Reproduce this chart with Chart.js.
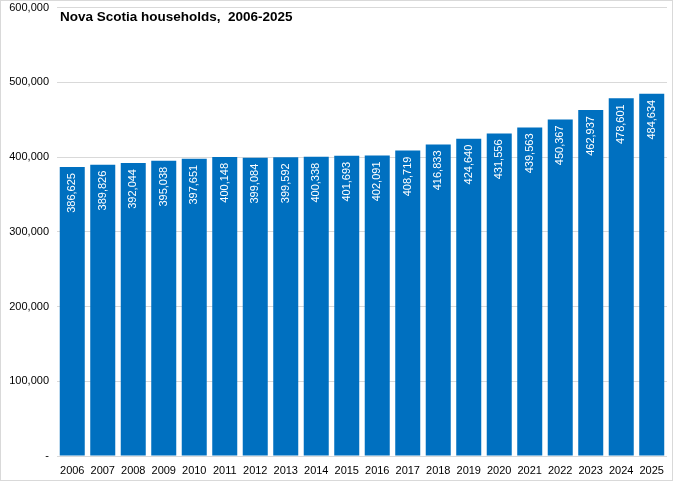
<!DOCTYPE html>
<html>
<head>
<meta charset="utf-8">
<script src="https://cdn.jsdelivr.net/npm/chart.js@4"></script>
<style>
  body { margin: 0; background: #fff; }
  #wrap { width: 671px; height: 479px; border: 1px solid #d9d9d9; overflow: hidden; }
  #chart { display: block; margin-top: -8px; }
</style>
</head>
<body>
<div id="wrap"><canvas id="chart" width="671" height="487"></canvas></div>
<script>
const years = ['2006', '2007', '2008', '2009', '2010', '2011', '2012', '2013', '2014', '2015',
  '2016', '2017', '2018', '2019', '2020', '2021', '2022', '2023', '2024', '2025'];
const households = [386625, 389826, 392044, 395038, 397651, 400148, 399084, 399592, 400338, 401693,
  402091, 408719, 416833, 424640, 431556, 439563, 450367, 462937, 478601, 484634];
const chartTitle = 'Nova Scotia households,  2006-2025';

const fmt = v => v.toLocaleString('en-US');

// title drawn inside the plot area, like the original
const titlePlugin = {
  id: 'titleInside',
  afterDraw(chart) {
    const ctx = chart.ctx;
    const a = chart.chartArea;
    ctx.save();
    ctx.font = 'bold 13.5px "Liberation Sans", Arial, sans-serif';
    ctx.fillStyle = '#000';
    ctx.textBaseline = 'middle';
    ctx.fillText(chartTitle, a.left + 3, a.top + 10);
    ctx.restore();
  }
};

// vertical white value labels at the top of each bar
const labelPlugin = {
  id: 'barLabels',
  afterDatasetsDraw(chart) {
    const ctx = chart.ctx;
    const meta = chart.getDatasetMeta(0);
    ctx.save();
    ctx.font = '11px "Liberation Sans", Arial, sans-serif';
    ctx.fillStyle = '#fff';
    ctx.textBaseline = 'middle';
    ctx.textAlign = 'right';
    meta.data.forEach((bar, i) => {
      ctx.save();
      ctx.translate(bar.x, bar.y + 6);
      ctx.rotate(-Math.PI / 2);
      ctx.fillText(fmt(households[i]), 0, 0);
      ctx.restore();
    });
    ctx.restore();
  }
};

new Chart(document.getElementById('chart'), {
  type: 'bar',
  data: {
    labels: years,
    datasets: [{
      data: households,
      backgroundColor: '#0070c0',
      barPercentage: 0.82,
      categoryPercentage: 1
    }]
  },
  options: {
    responsive: false,
    animation: false,
    layout: { padding: { top: 0, right: 1, left: 0, bottom: 0 } },
    plugins: { legend: { display: false }, tooltip: { enabled: false } },
    scales: {
      x: {
        grid: { display: false, drawTicks: false },
        border: { color: '#d9d9d9' },
        ticks: { color: '#000', font: { size: 11, family: '"Liberation Sans", Arial' }, padding: 8 },
        afterFit(s) { s.height = 24; }
      },
      y: {
        min: 0,
        max: 600000,
        ticks: {
          stepSize: 100000,
          color: '#000',
          font: { size: 11, family: '"Liberation Sans", Arial' },
          padding: 8,
          callback: v => v === 0 ? '-' : fmt(v)
        },
        grid: { color: '#d9d9d9', drawTicks: false },
        border: { display: false },
        afterFit(s) { s.width = 56; }
      }
    }
  },
  plugins: [titlePlugin, labelPlugin]
});
</script>
</body>
</html>
